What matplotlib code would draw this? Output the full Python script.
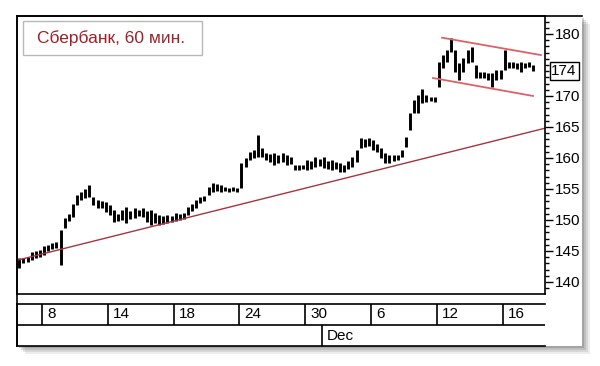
import numpy as np
import matplotlib.pyplot as plt
from matplotlib.patches import Rectangle
from matplotlib.lines import Line2D
from matplotlib.ticker import MultipleLocator, FixedLocator

plt.rcParams['font.family'] = ['Liberation Sans', 'DejaVu Sans']

# hourly bars, 4 per trading day, starting 1.5 days before Nov 8 (day 0)
highs = [143.9, 143.9, 144.0, 144.8, 145.0, 145.2, 145.8, 146.0, 146.3, 146.5,
         148.4, 150.3, 151.0, 152.5, 154.0, 154.5, 155.0, 155.6, 153.7, 153.2,
         153.0, 152.9, 152.4, 151.6, 151.0, 151.6, 152.1, 151.5, 151.9, 151.6,
         151.9, 151.4, 151.6, 151.1, 150.8, 150.6, 150.8, 150.6, 151.1, 151.0,
         151.1, 152.1, 152.6, 153.2, 153.7, 153.9, 155.3, 156.0, 155.8, 155.6,
         155.3, 155.2, 155.3, 155.2, 159.2, 160.0, 161.0, 161.3, 163.7, 161.6,
         160.8, 160.6, 160.8, 160.5, 160.8, 160.5, 160.2, 158.9, 158.9, 158.8,
         159.7, 159.5, 160.2, 159.8, 160.2, 159.5, 159.7, 159.4, 159.2, 158.9,
         159.5, 160.2, 161.3, 163.2, 163.0, 163.2, 162.9, 162.3, 161.6, 160.8,
         160.5, 160.5, 160.4, 161.3, 163.4, 167.3, 169.4, 170.2, 171.1, 170.2,
         169.8, 169.8, 175.5, 176.6, 177.4, 179.4, 177.4, 175.3, 176.1, 177.4,
         177.9, 175.0, 173.9, 173.9, 173.7, 173.7, 174.2, 174.2, 177.4, 175.5,
         175.5, 175.3, 175.5, 175.3, 175.5, 175.0]
lows = [142.3, 143.0, 143.2, 143.5, 143.8, 144.0, 144.4, 145.0, 145.3, 145.5,
        142.7, 148.7, 149.8, 150.5, 152.4, 153.2, 153.5, 153.7, 152.4, 152.0,
        151.9, 151.3, 150.8, 149.7, 149.8, 150.0, 149.5, 150.2, 150.3, 150.6,
        150.5, 149.6, 149.2, 149.5, 149.2, 149.4, 149.5, 149.7, 149.8, 150.0,
        150.2, 150.8, 151.5, 151.9, 152.7, 153.0, 154.0, 154.5, 154.6, 154.5,
        154.6, 154.5, 154.6, 154.5, 155.2, 158.5, 159.7, 160.0, 160.2, 160.2,
        159.6, 159.4, 158.9, 159.2, 159.4, 158.9, 159.0, 158.1, 158.1, 158.2,
        158.1, 158.3, 158.5, 158.7, 158.4, 158.3, 158.1, 158.3, 157.7, 157.7,
        158.2, 158.5, 159.4, 161.6, 161.8, 161.9, 161.3, 161.0, 160.0, 159.2,
        159.2, 159.5, 159.7, 160.2, 161.8, 164.5, 167.3, 167.3, 168.9, 169.0,
        169.2, 169.0, 171.5, 174.5, 175.5, 177.1, 173.9, 172.6, 173.9, 175.3,
        175.5, 172.9, 172.9, 172.9, 172.6, 171.5, 172.6, 172.8, 174.2, 174.5,
        174.5, 174.3, 173.9, 174.5, 174.7, 174.0]
last_price = 174

# date row: trading day index of each label
day_pos = [0, 4, 8, 12, 16, 20, 24, 28]
day_labels = ["8", "14", "18", "24", "30", "6", "12", "16"]
month_pos = [17]
month_labels = ["Dec"]

# trend lines (day, price)
trend_x = [-1.52, 30.58]
trend_y = [143.5, 164.8]
chan_up_x = [24.32, 30.33]
chan_up_y = [179.4, 176.6]
chan_lo_x = [23.77, 29.85]
chan_lo_y = [172.9, 170.0]

ytick_vals = [140, 145, 150, 155, 160, 165, 170, 180]

x = -1.375 + 0.25 * np.arange(len(highs))

fig = plt.figure(figsize=(6, 3.66), dpi=100)
W, H = 600.0, 366.0

def fr(x0, y0, x1, y1):
    return [x0 / W, 1 - y1 / H, (x1 - x0) / W, (y1 - y0) / H]

# panel with soft shadow
for k, a in enumerate([0.10, 0.14, 0.18, 0.25]):
    off = 8 - 2 * k
    fig.patches.append(Rectangle(((17 + off) / W, 1 - (346 + off) / H), 565 / W, 330 / H,
                                 transform=fig.transFigure, facecolor='#555555',
                                 alpha=a, edgecolor='none', zorder=0))
fig.patches.append(Rectangle((17 / W, 1 - 346 / H), 565 / W, 330 / H,
                             transform=fig.transFigure, facecolor='white',
                             edgecolor='none', zorder=0.5))
fig.lines.append(Line2D([17 / W, 582 / W], [1 - 16 / H, 1 - 16 / H], transform=fig.transFigure,
                        color='black', lw=1.2, zorder=3))
fig.lines.append(Line2D([17 / W, 17 / W], [1 - 16 / H, 1 - 346 / H], transform=fig.transFigure,
                        color='black', lw=1.2, zorder=3))

ax = fig.add_axes(fr(17, 16, 545, 294))
ax.set_zorder(2)
ax.set_facecolor('none')
ax.vlines(x, lows, highs, color='black', lw=2.1)
ax.plot(trend_x, trend_y, color='#a8343f', lw=1.0)
ax.plot(chan_up_x, chan_up_y, color='#e0606a', lw=1.3)
ax.plot(chan_lo_x, chan_lo_y, color='#e0606a', lw=1.3)
ax.set_xlim(-1.52, 30.58)
ax.set_ylim(138.06, 182.9)
ax.set_xticks([])
ax.yaxis.tick_right()
ax.yaxis.set_major_locator(FixedLocator(ytick_vals))
ax.yaxis.set_minor_locator(MultipleLocator(1))
ax.tick_params(axis='y', which='major', length=5.5, width=1, pad=1.5, labelsize=11)
ax.tick_params(axis='y', which='minor', length=3, width=1)
for s in ax.spines.values():
    s.set_linewidth(1.2)
ax.text(1.012, last_price, str(last_price), transform=ax.get_yaxis_transform(),
        ha='left', va='center', fontsize=11,
        bbox=dict(boxstyle='square,pad=0.12', facecolor='white', edgecolor='black', lw=1))

# date rows
ax2 = fig.add_axes(fr(17, 304, 545, 346))
ax2.set_zorder(2)
ax2.set_facecolor('none')
ax2.set_xlim(-1.52, 30.58)
ax2.set_ylim(0, 2)
ax2.set_xticks([])
ax2.set_yticks([])
ax2.spines['right'].set_visible(False)
for s in ax2.spines.values():
    s.set_linewidth(1.2)
ax2.axhline(1, color='black', lw=1.2)
ax2.vlines(day_pos, 1, 2, color='black', lw=1.2)
for p, lab in zip(day_pos, day_labels):
    ax2.text(p + 0.3, 1.5, lab, ha='left', va='center', fontsize=11)
ax2.vlines(month_pos, 0, 1, color='black', lw=1.2)
for p, lab in zip(month_pos, month_labels):
    ax2.text(p + 0.3, 0.5, lab, ha='left', va='center', fontsize=11)

# title box
fig.patches.append(Rectangle((23 / W, 1 - 55 / H), 179 / W, 34 / H, transform=fig.transFigure,
                             facecolor='white', edgecolor='#b8b8b8', lw=1, zorder=4))
fig.text(37 / W, 1 - 38.5 / H, "Сбербанк, 60 мин.", color='#9c2228', fontsize=12.5,
         ha='left', va='center', zorder=5)

plt.savefig("out.png", dpi=100)
